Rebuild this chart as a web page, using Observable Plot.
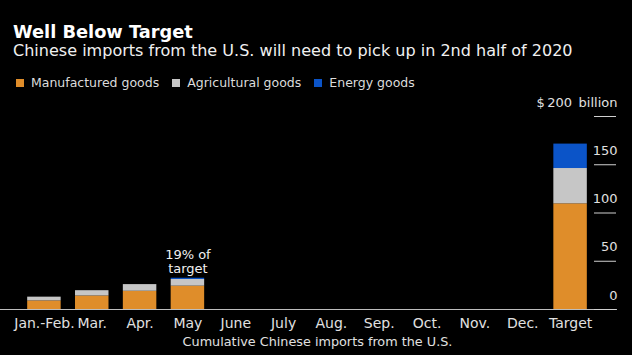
<!DOCTYPE html>
<html>
<head>
<meta charset="utf-8">
<script src="https://cdn.jsdelivr.net/npm/d3@7"></script>
<script src="https://cdn.jsdelivr.net/npm/@observablehq/plot@0.6"></script>
<style>
  html, body { margin: 0; padding: 0; background: #000; }
  #wrap { position: relative; width: 632px; height: 355px; background: #000; overflow: hidden; font-family: "DejaVu Sans", sans-serif; color: #e8e8e8; }
  #title { position: absolute; left: 13px; top: 21px; font-size: 17.8px; font-weight: bold; color: #fff; white-space: nowrap; }
  #subtitle { position: absolute; left: 13px; top: 41px; font-size: 16.05px; color: #f0f0f0; white-space: nowrap; }
  #legend { position: absolute; left: 16px; top: 75px; font-size: 12.5px; color: #dcdcdc; display: flex; align-items: center; white-space: nowrap; }
  .sw { display: inline-block; width: 8px; height: 8px; margin-right: 7px; }
  .item { display: inline-flex; align-items: center; margin-right: 13px; }
  #chart { position: absolute; left: 0; top: 92px; }
</style>
</head>
<body>
<div id="wrap">
  <div id="title">Well Below Target</div>
  <div id="subtitle">Chinese imports from the U.S. will need to pick up in 2nd half of 2020</div>
  <div id="legend"></div>
  <div id="chart"></div>
</div>
<script>
const categories = ["Jan.-Feb.", "Mar.", "Apr.", "May", "June", "July", "Aug.", "Sep.", "Oct.", "Nov.", "Dec.", "Target"];
const series = ["Manufactured goods", "Agricultural goods", "Energy goods"];
const colors = ["#df8d2a", "#c6c6c6", "#0b54c8"];
const manufactured = [8.9, 14.0, 18.9, 24.2, null, null, null, null, null, null, null, 109.5];
const agricultural = [3.9, 5.5, 6.9, 6.9, null, null, null, null, null, null, null, 36.6];
const energy = [0, 0, 0, 1.3, null, null, null, null, null, null, null, 25.3];
const yTicks = [0, 50, 100, 150, 200];
const annotationText = "19% of\ntarget";
const annotationMonth = "May";
const xTitle = "Cumulative Chinese imports from the U.S.";

// legend
const legend = document.getElementById("legend");
series.forEach((s, i) => {
  const item = document.createElement("span");
  item.className = "item";
  const sw = document.createElement("span");
  sw.className = "sw";
  sw.style.background = colors[i];
  item.appendChild(sw);
  item.appendChild(document.createTextNode(s));
  legend.appendChild(item);
});

const valuesBySeries = [manufactured, agricultural, energy];
const rows = [];
categories.forEach((c, i) => {
  series.forEach((s, j) => {
    const v = valuesBySeries[j][i];
    if (v != null) rows.push({category: c, series: s, value: v});
  });
});
const totals = categories.map((c, i) => ({category: c, total: (manufactured[i] || 0) + (agricultural[i] || 0) + (energy[i] || 0)}));
const annot = totals.filter(d => d.category === annotationMonth);

const plot = Plot.plot({
  width: 632,
  height: 263,
  marginLeft: 20,
  marginRight: 38,
  marginTop: 24,
  marginBottom: 46,
  style: {background: "#000", color: "#e0e0e0", fontFamily: "DejaVu Sans, sans-serif", fontSize: "14px"},
  x: {domain: categories, paddingInner: 0.3, paddingOuter: 0.15, round: false, label: null},
  y: {domain: [0, 200], label: null},
  color: {domain: series, range: colors},
  marks: [
    Plot.barY(rows, Plot.stackY({x: "category", y: "value", fill: "series", order: series})),
    Plot.ruleY([0], {stroke: "#bdbdbd", strokeWidth: 1, insetLeft: -20, insetRight: -23}),
    Plot.axisY(yTicks, {anchor: "right", tickSize: 22, dx: -1, stroke: "#d0d0d0", tickFormat: () => "", label: null}),
    Plot.axisY(yTicks, {anchor: "right", tickSize: 0, tickPadding: 23, textAnchor: "end", dy: -14, fill: "#e0e0e0", fontSize: 13, label: null, tickFormat: d => d === 200 ? "$\u2009200\u2002billion" : String(d)}),
    Plot.axisX({tickSize: 0, tickPadding: 9, fill: "#e0e0e0", label: null}),
    Plot.text(annot, {x: "category", y: "total", text: () => annotationText, lineAnchor: "bottom", lineHeight: 1.1, dy: -5, fontSize: 13, fill: "#f0f0f0"}),
    Plot.text([xTitle], {frameAnchor: "bottom", dx: 10, dy: 36, fontSize: 12.8, fill: "#e0e0e0"})
  ]
});
document.getElementById("chart").appendChild(plot);
</script>
</body>
</html>
